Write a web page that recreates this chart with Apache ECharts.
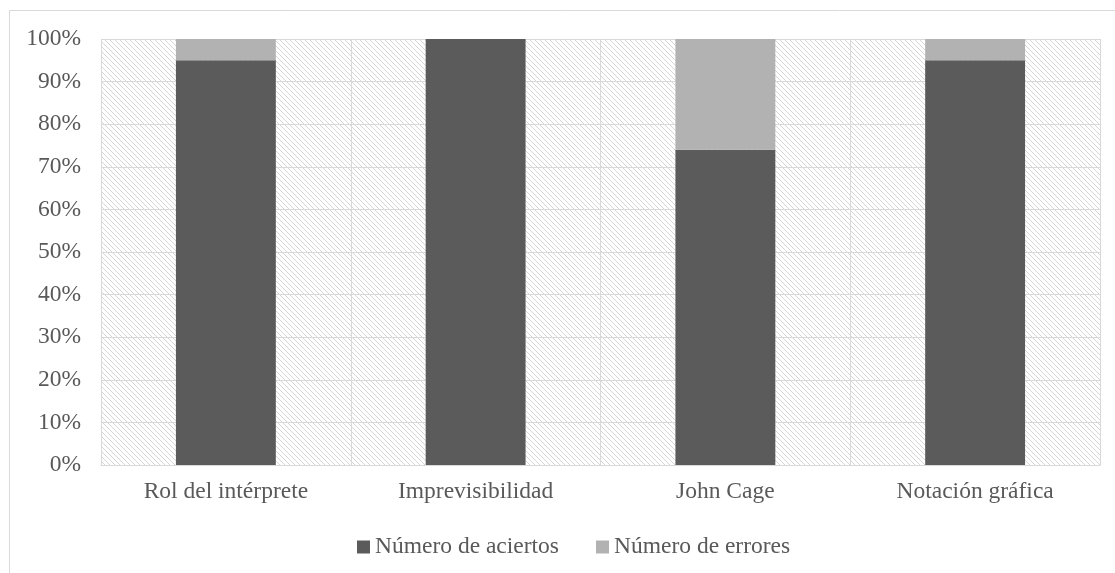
<!DOCTYPE html>
<html>
<head>
<meta charset="utf-8">
<script src="https://cdn.jsdelivr.net/npm/echarts@6/dist/echarts.min.js"></script>
<style>
  html, body { margin: 0; padding: 0; background: #fff; }
  #chart { width: 1115px; height: 573px; }
</style>
</head>
<body>
<div id="chart"></div>
<script>
// datos (porcentajes)
const categories = ['Rol del intérprete', 'Imprevisibilidad', 'John Cage', 'Notación gráfica']
const aciertos = [95, 100, 74, 95]
const errores = [5, 0, 26, 5]
const yTicks = [0, 10, 20, 30, 40, 50, 60, 70, 80, 90, 100]

const textColor = '#595959'
const lineColor = '#d9d9d9'
const font = '"Liberation Serif", "Times New Roman", serif'
const fontSize = 23.5

// trama diagonal del fondo
function hatch () {
  const c = document.createElement('canvas')
  c.width = 5
  c.height = 5
  const ctx = c.getContext('2d')
  ctx.fillStyle = '#ffffff'
  ctx.fillRect(0, 0, 5, 5)
  ctx.strokeStyle = '#d6d6d6'
  ctx.lineWidth = 1
  ctx.beginPath()
  ctx.moveTo(-1, -1)
  ctx.lineTo(6, 6)
  ctx.moveTo(-1, 4)
  ctx.lineTo(1, 6)
  ctx.moveTo(4, -1)
  ctx.lineTo(6, 1)
  ctx.stroke()
  return c
}

const chart = echarts.init(document.getElementById('chart'))
chart.setOption({
  animation: false,
  textStyle: { fontFamily: font },
  graphic: [{
    type: 'rect',
    shape: { x: 9.5, y: 10.5, width: 1120, height: 580 },
    style: { fill: 'none', stroke: lineColor, lineWidth: 1 },
    silent: true
  }],
  grid: {
    left: 101,
    right: 15,
    top: 39,
    bottom: 108,
    show: true,
    borderWidth: 0,
    backgroundColor: { image: hatch(), repeat: 'repeat' }
  },
  legend: {
    top: 535,
    left: 357,
    padding: 0,
    itemWidth: 13,
    itemHeight: 13,
    itemGap: 37,
    icon: 'rect',
    textStyle: { color: textColor, fontSize: fontSize, fontFamily: font },
    data: ['Número de aciertos', 'Número de errores']
  },
  xAxis: {
    type: 'category',
    data: categories,
    axisLine: { lineStyle: { color: lineColor } },
    axisTick: { show: false },
    axisLabel: { color: textColor, fontSize: fontSize, fontFamily: font, margin: 15 },
    splitLine: { show: true, interval: 0, lineStyle: { color: lineColor } }
  },
  yAxis: {
    type: 'value',
    min: yTicks[0],
    max: yTicks[yTicks.length - 1],
    interval: 10,
    axisLine: { show: false },
    axisTick: { show: false },
    axisLabel: { color: textColor, fontSize: fontSize, fontFamily: font, margin: 20, formatter: '{value}%' },
    splitLine: { lineStyle: { color: lineColor } }
  },
  series: [
    {
      name: 'Número de aciertos',
      type: 'bar',
      stack: 'total',
      barWidth: '40%',
      itemStyle: { color: '#5b5b5b' },
      data: aciertos
    },
    {
      name: 'Número de errores',
      type: 'bar',
      stack: 'total',
      barWidth: '40%',
      itemStyle: { color: '#b2b2b2' },
      data: errores
    }
  ]
})
</script>
</body>
</html>
